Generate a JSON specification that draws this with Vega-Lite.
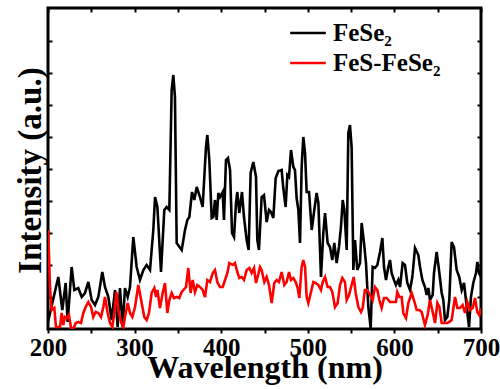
{
  "$schema": "https://vega.github.io/schema/vega-lite/v6.json",
  "width": 433,
  "height": 321,
  "autosize": {"type": "none"},
  "padding": {"left": 48, "top": 8, "right": 19, "bottom": 60},
  "background": "white",
  "config": {
    "view": {"stroke": "black", "strokeWidth": 3},
    "axis": {"grid": false, "domain": false, "tickColor": "black", "tickWidth": 2, "labelFont": "Times New Roman, Liberation Serif, serif", "labelFontWeight": "bold", "labelColor": "black", "titleFont": "Times New Roman, Liberation Serif, serif", "titleFontWeight": "bold", "titleColor": "black"}
  },
  "datasets": {
    "black": [{"s":"FeSe₂","w":200,"v":7},{"s":"FeSe₂","w":211.9,"v":52},{"s":"FeSe₂","w":216.5,"v":19},{"s":"FeSe₂","w":220.4,"v":46},{"s":"FeSe₂","w":222.7,"v":7},{"s":"FeSe₂","w":227.3,"v":62},{"s":"FeSe₂","w":230.4,"v":39},{"s":"FeSe₂","w":235.0,"v":41},{"s":"FeSe₂","w":238.9,"v":32},{"s":"FeSe₂","w":242.7,"v":36},{"s":"FeSe₂","w":246.6,"v":47},{"s":"FeSe₂","w":250.4,"v":29},{"s":"FeSe₂","w":254.3,"v":24},{"s":"FeSe₂","w":258.1,"v":32},{"s":"FeSe₂","w":262.7,"v":57},{"s":"FeSe₂","w":265.8,"v":42},{"s":"FeSe₂","w":269.7,"v":32},{"s":"FeSe₂","w":273.5,"v":9},{"s":"FeSe₂","w":277.4,"v":39},{"s":"FeSe₂","w":280.4,"v":2},{"s":"FeSe₂","w":283.1,"v":41},{"s":"FeSe₂","w":286.2,"v":2},{"s":"FeSe₂","w":288.9,"v":41},{"s":"FeSe₂","w":292.0,"v":32},{"s":"FeSe₂","w":294.7,"v":42},{"s":"FeSe₂","w":298.5,"v":92},{"s":"FeSe₂","w":302.4,"v":62},{"s":"FeSe₂","w":306.2,"v":49},{"s":"FeSe₂","w":310.1,"v":59},{"s":"FeSe₂","w":313.9,"v":64},{"s":"FeSe₂","w":317.8,"v":59},{"s":"FeSe₂","w":321.6,"v":99},{"s":"FeSe₂","w":323.6,"v":132},{"s":"FeSe₂","w":326.3,"v":122},{"s":"FeSe₂","w":330.5,"v":57},{"s":"FeSe₂","w":334.3,"v":119},{"s":"FeSe₂","w":337.0,"v":122},{"s":"FeSe₂","w":340.1,"v":119},{"s":"FeSe₂","w":342.8,"v":239},{"s":"FeSe₂","w":344.7,"v":254},{"s":"FeSe₂","w":346.6,"v":232},{"s":"FeSe₂","w":348.6,"v":86},{"s":"FeSe₂","w":354.4,"v":79},{"s":"FeSe₂","w":358.2,"v":99},{"s":"FeSe₂","w":360.9,"v":109},{"s":"FeSe₂","w":363.2,"v":112},{"s":"FeSe₂","w":366.3,"v":137},{"s":"FeSe₂","w":369.0,"v":129},{"s":"FeSe₂","w":371.7,"v":142},{"s":"FeSe₂","w":375.5,"v":132},{"s":"FeSe₂","w":378.6,"v":122},{"s":"FeSe₂","w":382.4,"v":182},{"s":"FeSe₂","w":384.0,"v":194},{"s":"FeSe₂","w":386.3,"v":169},{"s":"FeSe₂","w":389.0,"v":111},{"s":"FeSe₂","w":390.9,"v":112},{"s":"FeSe₂","w":392.8,"v":129},{"s":"FeSe₂","w":394.8,"v":109},{"s":"FeSe₂","w":396.7,"v":136},{"s":"FeSe₂","w":398.6,"v":132},{"s":"FeSe₂","w":401.7,"v":137},{"s":"FeSe₂","w":403.2,"v":109},{"s":"FeSe₂","w":405.5,"v":169},{"s":"FeSe₂","w":407.8,"v":171},{"s":"FeSe₂","w":410.2,"v":159},{"s":"FeSe₂","w":412.5,"v":96},{"s":"FeSe₂","w":414.8,"v":92},{"s":"FeSe₂","w":417.1,"v":126},{"s":"FeSe₂","w":418.6,"v":137},{"s":"FeSe₂","w":420.9,"v":116},{"s":"FeSe₂","w":424.0,"v":137},{"s":"FeSe₂","w":426.3,"v":112},{"s":"FeSe₂","w":429.4,"v":89},{"s":"FeSe₂","w":431.7,"v":79},{"s":"FeSe₂","w":434.0,"v":156},{"s":"FeSe₂","w":437.1,"v":167},{"s":"FeSe₂","w":440.2,"v":152},{"s":"FeSe₂","w":441.7,"v":89},{"s":"FeSe₂","w":443.6,"v":79},{"s":"FeSe₂","w":446.7,"v":132},{"s":"FeSe₂","w":449.4,"v":134},{"s":"FeSe₂","w":452.5,"v":107},{"s":"FeSe₂","w":455.2,"v":119},{"s":"FeSe₂","w":457.5,"v":117},{"s":"FeSe₂","w":460.2,"v":111},{"s":"FeSe₂","w":462.9,"v":151},{"s":"FeSe₂","w":466.0,"v":158},{"s":"FeSe₂","w":469.8,"v":159},{"s":"FeSe₂","w":471.7,"v":141},{"s":"FeSe₂","w":474.4,"v":122},{"s":"FeSe₂","w":476.4,"v":154},{"s":"FeSe₂","w":478.3,"v":152},{"s":"FeSe₂","w":480.6,"v":179},{"s":"FeSe₂","w":483.3,"v":162},{"s":"FeSe₂","w":485.2,"v":159},{"s":"FeSe₂","w":487.1,"v":131},{"s":"FeSe₂","w":489.1,"v":119},{"s":"FeSe₂","w":491.0,"v":86},{"s":"FeSe₂","w":492.9,"v":162},{"s":"FeSe₂","w":494.8,"v":192},{"s":"FeSe₂","w":496.8,"v":176},{"s":"FeSe₂","w":498.7,"v":137},{"s":"FeSe₂","w":501.4,"v":137},{"s":"FeSe₂","w":504.5,"v":99},{"s":"FeSe₂","w":507.5,"v":119},{"s":"FeSe₂","w":510.2,"v":136},{"s":"FeSe₂","w":512.2,"v":126},{"s":"FeSe₂","w":515.2,"v":52},{"s":"FeSe₂","w":517.9,"v":96},{"s":"FeSe₂","w":519.9,"v":116},{"s":"FeSe₂","w":522.9,"v":86},{"s":"FeSe₂","w":525.6,"v":82},{"s":"FeSe₂","w":528.3,"v":69},{"s":"FeSe₂","w":530.6,"v":86},{"s":"FeSe₂","w":533.3,"v":66},{"s":"FeSe₂","w":536.0,"v":82},{"s":"FeSe₂","w":538.3,"v":102},{"s":"FeSe₂","w":540.3,"v":129},{"s":"FeSe₂","w":542.2,"v":119},{"s":"FeSe₂","w":544.9,"v":79},{"s":"FeSe₂","w":546.8,"v":196},{"s":"FeSe₂","w":548.7,"v":204},{"s":"FeSe₂","w":550.6,"v":182},{"s":"FeSe₂","w":552.6,"v":59},{"s":"FeSe₂","w":554.5,"v":89},{"s":"FeSe₂","w":557.2,"v":59},{"s":"FeSe₂","w":560.3,"v":66},{"s":"FeSe₂","w":562.2,"v":106},{"s":"FeSe₂","w":564.9,"v":86},{"s":"FeSe₂","w":567.2,"v":66},{"s":"FeSe₂","w":569.9,"v":22},{"s":"FeSe₂","w":572.6,"v":1},{"s":"FeSe₂","w":574.9,"v":62},{"s":"FeSe₂","w":577.6,"v":61},{"s":"FeSe₂","w":580.3,"v":64},{"s":"FeSe₂","w":583.4,"v":77},{"s":"FeSe₂","w":586.1,"v":91},{"s":"FeSe₂","w":588.0,"v":62},{"s":"FeSe₂","w":590.3,"v":49},{"s":"FeSe₂","w":593.0,"v":62},{"s":"FeSe₂","w":594.9,"v":69},{"s":"FeSe₂","w":596.8,"v":56},{"s":"FeSe₂","w":599.5,"v":49},{"s":"FeSe₂","w":601.8,"v":44},{"s":"FeSe₂","w":604.5,"v":49},{"s":"FeSe₂","w":606.5,"v":42},{"s":"FeSe₂","w":609.5,"v":66},{"s":"FeSe₂","w":612.2,"v":64},{"s":"FeSe₂","w":614.9,"v":46},{"s":"FeSe₂","w":618.0,"v":39},{"s":"FeSe₂","w":620.7,"v":52},{"s":"FeSe₂","w":623.8,"v":81},{"s":"FeSe₂","w":627.6,"v":74},{"s":"FeSe₂","w":629.6,"v":62},{"s":"FeSe₂","w":632.3,"v":49},{"s":"FeSe₂","w":635.3,"v":42},{"s":"FeSe₂","w":637.3,"v":34},{"s":"FeSe₂","w":639.2,"v":41},{"s":"FeSe₂","w":641.1,"v":29},{"s":"FeSe₂","w":644.2,"v":34},{"s":"FeSe₂","w":645.7,"v":56},{"s":"FeSe₂","w":648.8,"v":77},{"s":"FeSe₂","w":651.5,"v":59},{"s":"FeSe₂","w":654.6,"v":36},{"s":"FeSe₂","w":656.5,"v":29},{"s":"FeSe₂","w":658.4,"v":9},{"s":"FeSe₂","w":661.1,"v":12},{"s":"FeSe₂","w":663.4,"v":29},{"s":"FeSe₂","w":666.1,"v":87},{"s":"FeSe₂","w":668.8,"v":82},{"s":"FeSe₂","w":671.9,"v":59},{"s":"FeSe₂","w":674.9,"v":52},{"s":"FeSe₂","w":677.7,"v":39},{"s":"FeSe₂","w":680.4,"v":46},{"s":"FeSe₂","w":683.5,"v":22},{"s":"FeSe₂","w":686.2,"v":2},{"s":"FeSe₂","w":688.4,"v":32},{"s":"FeSe₂","w":691.1,"v":46},{"s":"FeSe₂","w":694.2,"v":56},{"s":"FeSe₂","w":695.8,"v":67},{"s":"FeSe₂","w":697.7,"v":56},{"s":"FeSe₂","w":700,"v":52}],
    "red": [{"s":"FeS-FeSe₂","w":200.2,"v":99},{"s":"FeS-FeSe₂","w":202.3,"v":42},{"s":"FeS-FeSe₂","w":204.2,"v":19},{"s":"FeS-FeSe₂","w":207.3,"v":21},{"s":"FeS-FeSe₂","w":209.2,"v":2},{"s":"FeS-FeSe₂","w":213.9,"v":2},{"s":"FeS-FeSe₂","w":215.8,"v":16},{"s":"FeS-FeSe₂","w":217.7,"v":4},{"s":"FeS-FeSe₂","w":219.6,"v":12},{"s":"FeS-FeSe₂","w":221.6,"v":11},{"s":"FeS-FeSe₂","w":224.2,"v":14},{"s":"FeS-FeSe₂","w":226.6,"v":1},{"s":"FeS-FeSe₂","w":229.2,"v":0},{"s":"FeS-FeSe₂","w":232.0,"v":6},{"s":"FeS-FeSe₂","w":235.0,"v":7},{"s":"FeS-FeSe₂","w":238.1,"v":6},{"s":"FeS-FeSe₂","w":240.8,"v":16},{"s":"FeS-FeSe₂","w":243.5,"v":22},{"s":"FeS-FeSe₂","w":246.6,"v":27},{"s":"FeS-FeSe₂","w":249.7,"v":22},{"s":"FeS-FeSe₂","w":252.3,"v":12},{"s":"FeS-FeSe₂","w":255.0,"v":17},{"s":"FeS-FeSe₂","w":258.1,"v":16},{"s":"FeS-FeSe₂","w":261.2,"v":12},{"s":"FeS-FeSe₂","w":263.9,"v":22},{"s":"FeS-FeSe₂","w":265.8,"v":32},{"s":"FeS-FeSe₂","w":268.9,"v":16},{"s":"FeS-FeSe₂","w":271.6,"v":6},{"s":"FeS-FeSe₂","w":274.3,"v":2},{"s":"FeS-FeSe₂","w":276.6,"v":16},{"s":"FeS-FeSe₂","w":278.9,"v":37},{"s":"FeS-FeSe₂","w":281.2,"v":19},{"s":"FeS-FeSe₂","w":284.3,"v":7},{"s":"FeS-FeSe₂","w":287.0,"v":2},{"s":"FeS-FeSe₂","w":288.9,"v":12},{"s":"FeS-FeSe₂","w":292.0,"v":26},{"s":"FeS-FeSe₂","w":294.7,"v":16},{"s":"FeS-FeSe₂","w":297.4,"v":12},{"s":"FeS-FeSe₂","w":300.5,"v":22},{"s":"FeS-FeSe₂","w":304.3,"v":44},{"s":"FeS-FeSe₂","w":308.2,"v":26},{"s":"FeS-FeSe₂","w":311.2,"v":12},{"s":"FeS-FeSe₂","w":313.9,"v":9},{"s":"FeS-FeSe₂","w":316.6,"v":16},{"s":"FeS-FeSe₂","w":319.7,"v":36},{"s":"FeS-FeSe₂","w":322.8,"v":41},{"s":"FeS-FeSe₂","w":324.8,"v":32},{"s":"FeS-FeSe₂","w":326.3,"v":39},{"s":"FeS-FeSe₂","w":329.3,"v":21},{"s":"FeS-FeSe₂","w":332.4,"v":36},{"s":"FeS-FeSe₂","w":335.1,"v":46},{"s":"FeS-FeSe₂","w":337.8,"v":16},{"s":"FeS-FeSe₂","w":340.1,"v":29},{"s":"FeS-FeSe₂","w":342.8,"v":36},{"s":"FeS-FeSe₂","w":345.5,"v":31},{"s":"FeS-FeSe₂","w":348.6,"v":32},{"s":"FeS-FeSe₂","w":351.6,"v":31},{"s":"FeS-FeSe₂","w":354.4,"v":37},{"s":"FeS-FeSe₂","w":356.3,"v":39},{"s":"FeS-FeSe₂","w":359.4,"v":42},{"s":"FeS-FeSe₂","w":362.0,"v":61},{"s":"FeS-FeSe₂","w":364.7,"v":36},{"s":"FeS-FeSe₂","w":367.1,"v":49},{"s":"FeS-FeSe₂","w":369.7,"v":37},{"s":"FeS-FeSe₂","w":372.4,"v":44},{"s":"FeS-FeSe₂","w":375.5,"v":42},{"s":"FeS-FeSe₂","w":378.6,"v":39},{"s":"FeS-FeSe₂","w":381.3,"v":32},{"s":"FeS-FeSe₂","w":384.0,"v":49},{"s":"FeS-FeSe₂","w":387.1,"v":47},{"s":"FeS-FeSe₂","w":390.2,"v":56},{"s":"FeS-FeSe₂","w":392.8,"v":59},{"s":"FeS-FeSe₂","w":395.5,"v":47},{"s":"FeS-FeSe₂","w":398.6,"v":42},{"s":"FeS-FeSe₂","w":401.7,"v":42},{"s":"FeS-FeSe₂","w":404.4,"v":49},{"s":"FeS-FeSe₂","w":407.1,"v":56},{"s":"FeS-FeSe₂","w":409.4,"v":66},{"s":"FeS-FeSe₂","w":413.2,"v":64},{"s":"FeS-FeSe₂","w":415.9,"v":66},{"s":"FeS-FeSe₂","w":418.6,"v":57},{"s":"FeS-FeSe₂","w":420.9,"v":51},{"s":"FeS-FeSe₂","w":423.6,"v":52},{"s":"FeS-FeSe₂","w":426.3,"v":49},{"s":"FeS-FeSe₂","w":429.4,"v":59},{"s":"FeS-FeSe₂","w":432.5,"v":61},{"s":"FeS-FeSe₂","w":435.2,"v":56},{"s":"FeS-FeSe₂","w":437.9,"v":61},{"s":"FeS-FeSe₂","w":440.2,"v":46},{"s":"FeS-FeSe₂","w":442.9,"v":55},{"s":"FeS-FeSe₂","w":444.8,"v":62},{"s":"FeS-FeSe₂","w":446.7,"v":59},{"s":"FeS-FeSe₂","w":449.8,"v":47},{"s":"FeS-FeSe₂","w":452.5,"v":52},{"s":"FeS-FeSe₂","w":455.2,"v":44},{"s":"FeS-FeSe₂","w":458.3,"v":26},{"s":"FeS-FeSe₂","w":461.3,"v":46},{"s":"FeS-FeSe₂","w":464.0,"v":49},{"s":"FeS-FeSe₂","w":466.7,"v":47},{"s":"FeS-FeSe₂","w":469.8,"v":57},{"s":"FeS-FeSe₂","w":472.9,"v":44},{"s":"FeS-FeSe₂","w":475.6,"v":47},{"s":"FeS-FeSe₂","w":478.3,"v":57},{"s":"FeS-FeSe₂","w":480.6,"v":49},{"s":"FeS-FeSe₂","w":483.3,"v":51},{"s":"FeS-FeSe₂","w":486.0,"v":47},{"s":"FeS-FeSe₂","w":488.3,"v":41},{"s":"FeS-FeSe₂","w":490.2,"v":31},{"s":"FeS-FeSe₂","w":492.9,"v":62},{"s":"FeS-FeSe₂","w":494.8,"v":69},{"s":"FeS-FeSe₂","w":496.8,"v":62},{"s":"FeS-FeSe₂","w":498.7,"v":32},{"s":"FeS-FeSe₂","w":500.6,"v":26},{"s":"FeS-FeSe₂","w":503.7,"v":37},{"s":"FeS-FeSe₂","w":506.4,"v":47},{"s":"FeS-FeSe₂","w":509.1,"v":46},{"s":"FeS-FeSe₂","w":512.2,"v":44},{"s":"FeS-FeSe₂","w":515.2,"v":39},{"s":"FeS-FeSe₂","w":517.2,"v":47},{"s":"FeS-FeSe₂","w":519.9,"v":52},{"s":"FeS-FeSe₂","w":522.9,"v":42},{"s":"FeS-FeSe₂","w":525.6,"v":42},{"s":"FeS-FeSe₂","w":528.3,"v":37},{"s":"FeS-FeSe₂","w":531.4,"v":22},{"s":"FeS-FeSe₂","w":534.5,"v":26},{"s":"FeS-FeSe₂","w":537.2,"v":44},{"s":"FeS-FeSe₂","w":539.9,"v":51},{"s":"FeS-FeSe₂","w":542.9,"v":47},{"s":"FeS-FeSe₂","w":544.9,"v":29},{"s":"FeS-FeSe₂","w":547.6,"v":34},{"s":"FeS-FeSe₂","w":550.6,"v":44},{"s":"FeS-FeSe₂","w":553.0,"v":52},{"s":"FeS-FeSe₂","w":555.3,"v":36},{"s":"FeS-FeSe₂","w":558.4,"v":22},{"s":"FeS-FeSe₂","w":561.4,"v":17},{"s":"FeS-FeSe₂","w":563.4,"v":21},{"s":"FeS-FeSe₂","w":565.9,"v":39},{"s":"FeS-FeSe₂","w":568.7,"v":39},{"s":"FeS-FeSe₂","w":571.8,"v":34},{"s":"FeS-FeSe₂","w":574.9,"v":29},{"s":"FeS-FeSe₂","w":577.6,"v":42},{"s":"FeS-FeSe₂","w":580.3,"v":39},{"s":"FeS-FeSe₂","w":582.6,"v":29},{"s":"FeS-FeSe₂","w":585.3,"v":21},{"s":"FeS-FeSe₂","w":588.0,"v":31},{"s":"FeS-FeSe₂","w":591.1,"v":31},{"s":"FeS-FeSe₂","w":594.9,"v":27},{"s":"FeS-FeSe₂","w":598.8,"v":27},{"s":"FeS-FeSe₂","w":601.8,"v":27},{"s":"FeS-FeSe₂","w":603.3,"v":37},{"s":"FeS-FeSe₂","w":605.7,"v":32},{"s":"FeS-FeSe₂","w":608.4,"v":32},{"s":"FeS-FeSe₂","w":610.3,"v":16},{"s":"FeS-FeSe₂","w":613.4,"v":11},{"s":"FeS-FeSe₂","w":616.1,"v":26},{"s":"FeS-FeSe₂","w":619.9,"v":36},{"s":"FeS-FeSe₂","w":622.6,"v":29},{"s":"FeS-FeSe₂","w":625.7,"v":19},{"s":"FeS-FeSe₂","w":628.8,"v":19},{"s":"FeS-FeSe₂","w":631.5,"v":17},{"s":"FeS-FeSe₂","w":635.3,"v":4},{"s":"FeS-FeSe₂","w":638.4,"v":14},{"s":"FeS-FeSe₂","w":641.1,"v":29},{"s":"FeS-FeSe₂","w":644.2,"v":17},{"s":"FeS-FeSe₂","w":646.9,"v":6},{"s":"FeS-FeSe₂","w":649.6,"v":26},{"s":"FeS-FeSe₂","w":651.9,"v":22},{"s":"FeS-FeSe₂","w":654.6,"v":6},{"s":"FeS-FeSe₂","w":657.3,"v":6},{"s":"FeS-FeSe₂","w":660.4,"v":6},{"s":"FeS-FeSe₂","w":663.4,"v":7},{"s":"FeS-FeSe₂","w":666.1,"v":9},{"s":"FeS-FeSe₂","w":670.0,"v":32},{"s":"FeS-FeSe₂","w":672.7,"v":21},{"s":"FeS-FeSe₂","w":675.7,"v":21},{"s":"FeS-FeSe₂","w":678.8,"v":24},{"s":"FeS-FeSe₂","w":681.5,"v":16},{"s":"FeS-FeSe₂","w":684.2,"v":27},{"s":"FeS-FeSe₂","w":687.3,"v":19},{"s":"FeS-FeSe₂","w":690.4,"v":21},{"s":"FeS-FeSe₂","w":693.1,"v":31},{"s":"FeS-FeSe₂","w":695.7,"v":17},{"s":"FeS-FeSe₂","w":698.0,"v":14},{"s":"FeS-FeSe₂","w":700,"v":21}]
  },
  "layer": [
    {
      "data": {"name": "black"},
      "mark": {"type": "line", "strokeWidth": 2.6, "clip": true},
      "encoding": {
        "x": {"field": "w", "type": "quantitative", "scale": {"domain": [200, 700], "nice": false, "zero": false},
          "axis": {"orient": "bottom", "values": [200,250,300,350,400,450,500,550,600,650,700], "labelExpr": "datum.value % 100 === 0 ? datum.label : ''", "tickSize": 4, "labelFontSize": 25, "labelPadding": 22, "labelBaseline": "alphabetic", "labelFlush": false, "labelOverlap": false, "title": "Wavelength (nm)", "titleFontSize": 32, "titleBaseline": "alphabetic", "titleY": 48}},
        "y": {"field": "v", "type": "quantitative", "scale": {"domain": [0, 321], "nice": false},
          "axis": {"orient": "left", "values": [32,64,96,128,160,192,224,256,288], "labels": false, "tickSize": -4, "title": "Intensity (a.u.)", "titleFontSize": 33, "titleBaseline": "alphabetic", "titleX": -8, "titleY": 162}},
        "color": {"field": "s", "type": "nominal", "scale": {"domain": ["FeSe₂", "FeS-FeSe₂"], "range": ["#000000", "#ff0000"]},
          "legend": {"orient": "none", "legendX": 243, "legendY": 8, "title": null, "symbolType": "M-1.15,0H1.15", "symbolSize": 961, "symbolStrokeWidth": 2.5, "labelFont": "Times New Roman, Liberation Serif, serif", "labelFontWeight": "bold", "labelFontSize": 25, "labelColor": "black", "labelOffset": 8, "rowPadding": 0, "padding": 0}}
      }
    },
    {
      "data": {"name": "red"},
      "mark": {"type": "line", "strokeWidth": 2.6, "clip": true},
      "encoding": {
        "x": {"field": "w", "type": "quantitative", "axis": null},
        "y": {"field": "v", "type": "quantitative", "axis": null},
        "color": {"field": "s", "type": "nominal"}
      }
    },
    {
      "data": {"name": "black"},
      "mark": {"type": "line", "opacity": 0},
      "encoding": {
        "x": {"field": "w", "type": "quantitative", "axis": {"orient": "top", "values": [200,250,300,350,400,450,500,550,600,650,700], "labels": false, "tickSize": -4, "title": null}},
        "y": {"field": "v", "type": "quantitative", "axis": {"orient": "right", "values": [32,64,96,128,160,192,224,256,288], "labels": false, "tickSize": -4, "title": null}}
      }
    }
  ],
  "resolve": {"axis": {"x": "independent", "y": "independent"}}
}
